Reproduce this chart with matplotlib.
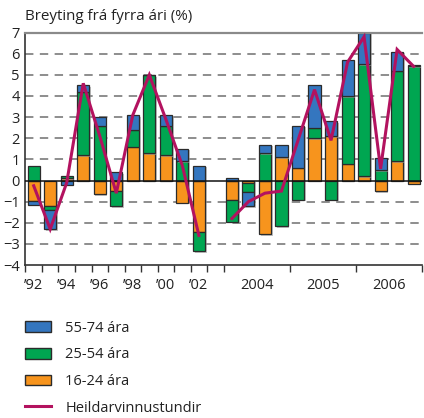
import numpy as np
import matplotlib
matplotlib.use("Agg")
import matplotlib.pyplot as plt
from matplotlib.patches import Patch
from matplotlib.lines import Line2D
import matplotlib.patheffects as pe

plt.rcParams['font.family'] = ['Open Sans', 'DejaVu Sans']

# Annual change 1992-2002
annual_labels = ["’92", "’93", "’94", "’95", "’96", "’97", "’98", "’99", "’00", "’01", "’02"]
annual_16_24 = [-0.95, -1.2, 0.1, 1.2, -0.65, -0.5, 1.6, 1.3, 1.2, -1.05, -2.45]
annual_25_54 = [0.7, -0.2, 0.1, 3.0, 2.6, -0.7, 0.8, 3.7, 1.4, 0.9, -0.9]
annual_55_74 = [-0.2, -0.9, -0.2, 0.3, 0.4, 0.4, 0.7, 0.0, 0.5, 0.6, 0.7]
annual_total = [-0.25, -2.3, -0.1, 4.6, 2.1, -0.6, 3.1, 5.0, 2.9, 0.7, -2.6]

# Quarterly change 2004-2006
quarter_years = ["2004", "2005", "2006"]
quarterly_16_24 = [-0.9, -0.1, -2.55, 1.1, 0.6, 2.0, 2.1, 0.8, 0.2, -0.5, 0.9, -0.15]
quarterly_25_54 = [-1.05, -0.45, 1.3, -2.15, -0.9, 0.5, -0.9, 3.2, 5.3, 0.5, 4.3, 5.4]
quarterly_55_74 = [0.1, -0.65, 0.4, 0.6, 2.0, 2.0, 0.7, 1.7, 1.5, 0.55, 0.9, 0.08]
quarterly_total = [-1.8, -1.0, -0.6, -0.5, 1.9, 4.3, 1.9, 5.6, 6.8, 0.55, 6.2, 5.4]

series_names = ["16-24 ára", "25-54 ára", "55-74 ára"]
series_colors = ["#f7941d", "#00a651", "#3476bf"]
line_name = "Heildarvinnustundir"
line_color = "#b3125f"

n_a = len(annual_total)
n_q = len(quarterly_total)
x_a = np.arange(n_a)
x_q = np.arange(n_q) + n_a + 1
x_all = np.concatenate([x_a, x_q])

stack = [np.array(annual_16_24 + quarterly_16_24),
         np.array(annual_25_54 + quarterly_25_54),
         np.array(annual_55_74 + quarterly_55_74)]

fig = plt.figure(figsize=(4.24, 4.18), dpi=100)
ax = fig.add_axes([0.060, 0.366, 0.935, 0.556])

# grid lines
for yv in [-3, -2, -1, 1, 2, 3, 4, 5, 6]:
    ax.axhline(yv, color="#6f6f6f", lw=1.1, ls=(0, (5.5, 4.2)), zorder=0)

shadow = [pe.SimplePatchShadow(offset=(1.2, -1.2), shadow_rgbFace="#9a9a9a", alpha=0.6), pe.Normal()]
pos_base = np.zeros(len(x_all))
neg_base = np.zeros(len(x_all))
for vals, col in zip(stack, series_colors):
    base = np.where(vals >= 0, pos_base, neg_base)
    bars = ax.bar(x_all, vals, bottom=base, width=0.73, color=col,
                  edgecolor="#2b2b2b", linewidth=0.9, zorder=2)
    for b in bars:
        b.set_path_effects(shadow)
    pos_base = pos_base + np.where(vals >= 0, vals, 0)
    neg_base = neg_base + np.where(vals < 0, vals, 0)

ax.axhline(0, color="#111111", lw=1.1, zorder=3)

ax.plot(x_a, annual_total, color=line_color, lw=2.2, zorder=4, solid_joinstyle="miter")
ax.plot(x_q, quarterly_total, color=line_color, lw=2.2, zorder=4, solid_joinstyle="miter")

ax.set_xlim(-0.5, n_a + n_q + 0.5)
ax.set_ylim(-4, 7)
ax.set_yticks(range(-4, 8))
ax.tick_params(axis="y", length=0, pad=4, labelsize=10.5, colors="#222222")

# x ticks: boundaries as marks, labels centred on the years
tick_pos = list(np.arange(-0.5, n_a + 1, 1.0)) + [n_a + 0.5 + 4 * k for k in range(1, 4)]
ax.set_xticks(tick_pos)
ax.set_xticklabels([])
ax.tick_params(axis="x", which="major", length=5, width=1, color="#333333", direction="out")
label_pos = list(x_a[::2]) + [n_a + 1 + 1.5 + 4 * k for k in range(3)]
label_txt = annual_labels[::2] + quarter_years
ax.set_xticks(label_pos, minor=True)
ax.set_xticklabels(label_txt, minor=True)
ax.tick_params(axis="x", which="minor", length=0, pad=9, labelsize=10.5, colors="#222222")

ax.spines["right"].set_visible(False)
ax.spines["top"].set_color("#8a8a8a")
ax.spines["top"].set_linewidth(1.6)
ax.spines["left"].set_color("#333333")
ax.spines["left"].set_linewidth(1.2)
ax.spines["bottom"].set_color("#333333")
ax.spines["bottom"].set_linewidth(1.2)

fig.text(0.060, 0.942, "Breyting frá fyrra ári (%)", fontsize=10.9, color="#222222",
         ha="left", va="bottom")

handles = [Patch(facecolor=series_colors[2], edgecolor="#2b2b2b", label="55-74 ára"),
           Patch(facecolor=series_colors[1], edgecolor="#2b2b2b", label="25-54 ára"),
           Patch(facecolor=series_colors[0], edgecolor="#2b2b2b", label="16-24 ára"),
           Line2D([0], [0], color=line_color, lw=2.2, label=line_name)]
fig.legend(handles=handles, loc="upper left", bbox_to_anchor=(0.058, 0.233), frameon=False,
           fontsize=10.5, handlelength=1.8, handleheight=0.75, handletextpad=1.0,
           labelspacing=0.80, borderpad=0, borderaxespad=0, labelcolor="#222222")

fig.savefig("out.png", dpi=100)
